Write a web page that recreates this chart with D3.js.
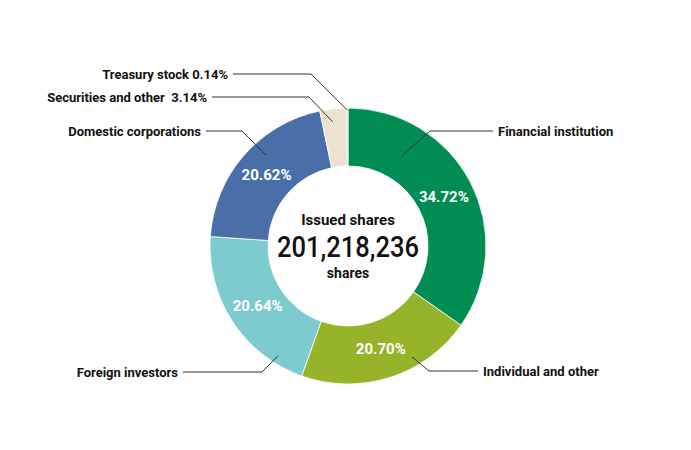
<!DOCTYPE html>
<html>
<head>
<meta charset="utf-8">
<script src="https://cdn.jsdelivr.net/npm/d3@7"></script>
<style>
  body { margin: 0; background: #fff; }
  text { font-family: "Roboto", sans-serif; }
</style>
</head>
<body>
<svg id="chart" width="691" height="450"></svg>
<script>
const categories = ['Financial institution', 'Individual and other', 'Foreign investors',
  'Domestic corporations', 'Securities and other', 'Treasury stock'];
const shares = [34.72, 20.70, 20.64, 20.62, 3.14, 0.14];
const colors = ['#008c52', '#95b42a', '#7ecbcf', '#4a6fa8', '#ebe2d0', '#a9d6e3'];
const showInside = [true, true, true, true, false, false];
const outsideLabels = ['Financial institution', 'Individual and other', 'Foreign investors',
  'Domestic corporations', 'Securities and other\u00a0\u00a03.14%', 'Treasury stock 0.14%'];
const issuedShares = 201218236;

// leader layout: angle inside slice (deg), start radius, elbow, line end x
const leaders = [
  { a: 31, r: 106, ex: 430, ey: 131, x2: 493, side: 1 },
  { a: 150, r: 128, ex: 429, ey: 371, x2: 478, side: 1 },
  { a: 212.5, r: 130, ex: 262, ey: 372, x2: 183, side: -1 },
  { a: 318, r: 122, ex: 242, ey: 131, x2: 206, side: -1 },
  { a: 353, r: 125, ex: 309, ey: 97, x2: 212, side: -1 },
  { a: 359.7, r: 136, ex: 311, ey: 74, x2: 233, side: -1 }
];

const svg = d3.select('#chart');
const cx = 348, cy = 246, outerR = 138, innerR = 80;
const g = svg.append('g').attr('transform', `translate(${cx},${cy})`);

const pie = d3.pie().sort(null).value(d => d);
const arcs = pie(shares);
const arc = d3.arc().innerRadius(innerR).outerRadius(outerR);
const labelArc = d3.arc().innerRadius(108).outerRadius(108);

g.selectAll('path.slice')
  .data(arcs)
  .join('path')
  .attr('class', 'slice')
  .attr('d', arc)
  .attr('fill', (d, i) => colors[i])
  .attr('stroke', '#fff')
  .attr('stroke-width', 0.8);

g.selectAll('text.pct')
  .data(arcs.filter((d, i) => showInside[i]))
  .join('text')
  .attr('class', 'pct')
  .attr('transform', d => `translate(${labelArc.centroid(d)})`)
  .attr('text-anchor', 'middle')
  .attr('dy', '0.36em')
  .attr('fill', '#fff')
  .attr('font-size', 15)
  .attr('font-weight', 'bold')
  .text(d => d.value.toFixed(2) + '%');

// leader lines
const polar = (deg, r) => {
  const t = deg * Math.PI / 180;
  return [r * Math.sin(t), -r * Math.cos(t)];
};
const line = d3.line();
svg.selectAll('path.leader')
  .data(leaders)
  .join('path')
  .attr('class', 'leader')
  .attr('fill', 'none')
  .attr('stroke', '#333')
  .attr('stroke-width', 1)
  .attr('d', d => {
    const p = polar(d.a, d.r);
    return line([[cx + p[0], cy + p[1]], [d.ex, d.ey], [d.x2, d.ey]]);
  });

svg.selectAll('text.cat')
  .data(leaders)
  .join('text')
  .attr('class', 'cat')
  .attr('x', d => d.x2 + d.side * 5)
  .attr('y', d => d.ey)
  .attr('dy', '0.36em')
  .attr('text-anchor', d => d.side > 0 ? 'start' : 'end')
  .attr('font-size', 13)
  .attr('font-weight', 'bold')
  .attr('fill', '#111')
  .text((d, i) => outsideLabels[i]);

// center text
const center = svg.append('g').attr('transform', `translate(${cx},${cy})`)
  .attr('text-anchor', 'middle').attr('fill', '#111');
center.append('text').attr('y', -26).attr('dy', '0.36em')
  .attr('font-size', 15).attr('font-weight', 'bold').text('Issued shares');
center.append('text').attr('y', 1).attr('dy', '0.36em')
  .attr('font-size', 29).attr('font-weight', 500)
  .attr('textLength', 142).attr('lengthAdjust', 'spacingAndGlyphs')
  .text(d3.format(',')(issuedShares));
center.append('text').attr('y', 27).attr('dy', '0.36em')
  .attr('font-size', 14).attr('font-weight', 'bold').text('shares');
</script>
</body>
</html>
